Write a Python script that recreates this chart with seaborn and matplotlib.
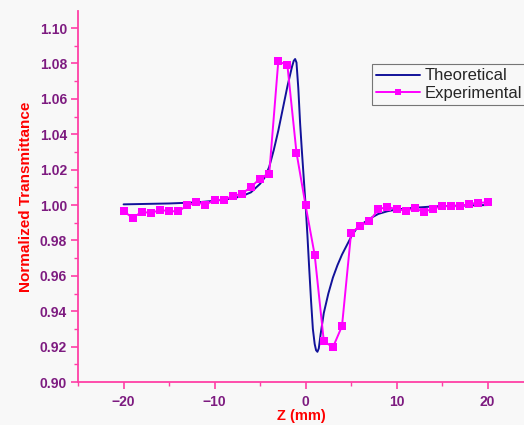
import numpy as np
import pandas as pd
import matplotlib
matplotlib.use("Agg")
import matplotlib.pyplot as plt
from matplotlib.ticker import MultipleLocator
import seaborn as sns

# theoretical curve
z_theory = [-20, -15, -12, -10, -8, -7, -6, -5, -4.5, -4, -3.5, -3, -2.5, -2,
            -1.5, -1.3, -1.15, -1.0, -0.8, -0.6, -0.4, -0.2, 0, 0.2, 0.4, 0.6,
            0.8, 1.0, 1.15, 1.3, 1.45, 1.65, 2.0, 2.5, 3.0, 3.5, 4.0, 4.5, 5.0,
            5.5, 6.0, 7.0, 8.0, 9.0, 10, 12, 14, 17, 20]
t_theory = [1.0004, 1.0009, 1.0015, 1.0024, 1.0038, 1.0050, 1.0072, 1.0120,
            1.0155, 1.0215, 1.0310, 1.0420, 1.0545, 1.0670, 1.0780, 1.0815,
            1.0825, 1.0805, 1.0660, 1.0460, 1.0300, 1.0150, 1.0000, 0.9830,
            0.9640, 0.9460, 0.9300, 0.9215, 0.9180, 0.9171, 0.9190, 0.9270,
            0.9390, 0.9500, 0.9590, 0.9660, 0.9720, 0.9770, 0.9820, 0.9860,
            0.9885, 0.9922, 0.9950, 0.9965, 0.9975, 0.9985, 0.9992, 0.9997,
            1.0000]

# experimental points, one per mm
z_exp = list(range(-20, 21))
t_exp = [0.9966, 0.9927, 0.9962, 0.9955, 0.9972, 0.9966, 0.9964, 0.9998,
         1.0015, 1.0002, 1.0028, 1.0030, 1.0051, 1.0064, 1.0102, 1.0150,
         1.0175, 1.0812, 1.0790, 1.0296, 0.9998, 0.9718, 0.9232, 0.9196,
         0.9316, 0.9842, 0.9883, 0.9908, 0.9976, 0.9990, 0.9976, 0.9968,
         0.9981, 0.9962, 0.9979, 0.9994, 0.9994, 0.9994, 1.0007, 1.0013,
         1.0015]

theory = pd.DataFrame({"z": z_theory, "T": t_theory})
exper = pd.DataFrame({"z": z_exp, "T": t_exp})

sns.set_style("ticks")
plt.rcParams["font.family"] = ["Liberation Sans", "DejaVu Sans"]

pink = "#ff3fa6"
purple = "#7d1b80"

fig = plt.figure(figsize=(5.24, 4.25), dpi=100, facecolor="#f8f8f8")
ax = fig.add_axes([0.149, 0.101, 0.851, 0.873])
ax.set_facecolor("#f8f8f8")

sns.lineplot(data=theory, x="z", y="T", ax=ax, color="#12129a", lw=1.4,
             label="Theoretical", sort=False, estimator=None)
sns.lineplot(data=exper, x="z", y="T", ax=ax, color="#ff00ff", lw=1.4,
             marker="s", markersize=5.5, markeredgewidth=0,
             label="Experimental", sort=False, estimator=None)

ax.set_xlim(-25, 24)
ax.set_ylim(0.9, 1.1096)
ax.xaxis.set_major_locator(MultipleLocator(10))
ax.xaxis.set_minor_locator(MultipleLocator(5))
ax.yaxis.set_major_locator(MultipleLocator(0.02))
ax.yaxis.set_minor_locator(MultipleLocator(0.01))
ax.yaxis.set_major_formatter(matplotlib.ticker.FormatStrFormatter("%.2f"))

sns.despine(ax=ax)
for s in ["left", "bottom"]:
    ax.spines[s].set_color(pink)
    ax.spines[s].set_linewidth(1.3)
ax.tick_params(which="major", direction="out", length=5, width=1.2,
               color=pink, labelcolor=purple, labelsize=10, pad=3)
ax.tick_params(axis="x", which="major", pad=4)
ax.tick_params(which="minor", direction="out", length=3, width=1.0, color=pink)
for lab in ax.get_xticklabels() + ax.get_yticklabels():
    lab.set_fontweight("bold")

ax.set_xlabel("Z (mm)", color="red", fontsize=10.5, fontweight="bold", labelpad=0)
ax.set_ylabel("Normalized Transmittance", color="red", fontsize=11,
              fontweight="bold", labelpad=5)

leg = ax.legend(loc="upper left", bbox_to_anchor=(0.71, 0.849),
                bbox_transform=fig.transFigure, fontsize=12, frameon=True,
                fancybox=False, borderaxespad=0, handlelength=2.6,
                handletextpad=0.3, borderpad=0.25, labelspacing=0.15,
                markerscale=0.8)
leg.get_frame().set_edgecolor("#555555")
leg.get_frame().set_linewidth(0.8)
leg.get_frame().set_facecolor("#f8f8f8")

fig.savefig("out.png", dpi=100, facecolor=fig.get_facecolor())
